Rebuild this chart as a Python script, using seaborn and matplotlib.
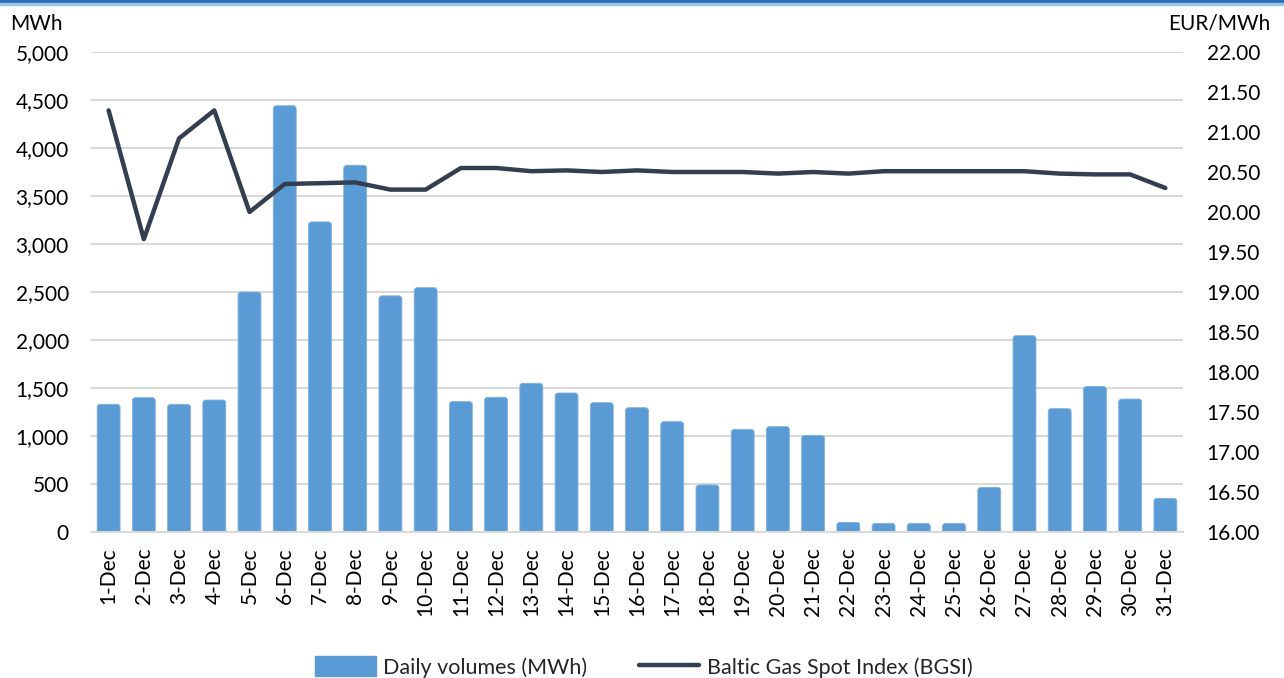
import numpy as np
import pandas as pd
import matplotlib
matplotlib.use("Agg")
import matplotlib.pyplot as plt
from matplotlib.patches import Rectangle, Patch, FancyBboxPatch
from matplotlib.lines import Line2D
from matplotlib.ticker import FuncFormatter, MultipleLocator
import seaborn as sns

days = [f"{d}-Dec" for d in range(1, 32)]
volumes = [1330, 1399, 1330, 1375, 2500, 4440, 3230, 3820, 2460, 2545,
           1358, 1403, 1549, 1448, 1347, 1295, 1149, 490, 1069, 1097,
           1007, 101, 90, 90, 90, 465, 2045, 1285, 1515, 1385, 351]
prices = [21.27, 19.66, 20.92, 21.27, 20.00, 20.35, 20.36, 20.37, 20.28, 20.28,
          20.55, 20.55, 20.51, 20.52, 20.50, 20.52, 20.50, 20.50, 20.50, 20.48,
          20.50, 20.48, 20.51, 20.51, 20.51, 20.51, 20.51, 20.48, 20.47, 20.47,
          20.30]
left_label = "MWh"
right_label = "EUR/MWh"
bar_name = "Daily volumes (MWh)"
line_name = "Baltic Gas Spot Index (BGSI)"

sns.set_theme(style="white")
plt.rcParams["font.family"] = ["Lato", "DejaVu Sans"]

BAR_C = "#5B9BD5"
LINE_C = "#333F50"
GRID_C = "#D9D9D9"
TXT = "#000000"

W, H = 1284, 678
AX_L, AX_R, AX_T, AX_B = 91, 1183, 52, 532
fig = plt.figure(figsize=(W / 100, H / 100), dpi=100)
ax = fig.add_axes([AX_L / W, 1 - AX_B / H, (AX_R - AX_L) / W, (AX_B - AX_T) / H])

df = pd.DataFrame({"day": days, "vol": volumes})
sns.barplot(data=df, x="day", y="vol", ax=ax, color=BAR_C, width=0.65,
            saturation=1, edgecolor=BAR_C, linewidth=0)
ax.set_xlim(-0.5, len(days) - 0.5)
ax.set_ylim(0, 5000)

# rounded top corners, like the reference bars
px_x = (AX_R - AX_L) / len(days)          # pixels per category
px_y = (AX_B - AX_T) / 5000.0             # pixels per MWh
r_px = 3.0
aspect = (1 / px_y) / (1 / px_x)
for p in list(ax.patches):
    x0, w, h = p.get_x(), p.get_width(), p.get_height()
    ext = r_px / px_y
    fb = FancyBboxPatch((x0, -ext), w, h + ext,
                        boxstyle=f"round,pad=0,rounding_size={r_px / px_x}",
                        mutation_aspect=aspect, facecolor=BAR_C,
                        edgecolor="#7FB1DE", linewidth=0.6, zorder=p.get_zorder())
    p.remove()
    ax.add_patch(fb)

ax.yaxis.set_major_locator(MultipleLocator(500))
ax.yaxis.set_major_formatter(FuncFormatter(lambda v, p: f"{v:,.0f}"))
ax.set_axisbelow(True)
ax.grid(axis="y", color=GRID_C, lw=1.5)
ax.grid(axis="x", visible=False)
for s in ["top", "right", "left"]:
    ax.spines[s].set_visible(False)
ax.spines["bottom"].set_color(GRID_C)
ax.spines["bottom"].set_linewidth(1.5)
ax.spines["bottom"].set_zorder(5)
ax.set_xlabel("")
ax.set_ylabel("")
ax.tick_params(axis="y", length=0, pad=16, labelsize=15, labelcolor=TXT)
ax.tick_params(axis="x", which="major", length=0, pad=11, labelsize=15,
               labelrotation=90, labelcolor=TXT)
ax.set_xticks(np.arange(-0.5, len(days), 1.0), minor=True)
ax.tick_params(axis="x", which="minor", length=5, width=1.5, color=GRID_C,
               direction="out")

ax2 = ax.twinx()
sns.lineplot(x=np.arange(len(days)), y=prices, ax=ax2, color=LINE_C,
             lw=3.2, solid_joinstyle="round", solid_capstyle="round")
ax2.set_ylim(16, 22)
ax2.yaxis.set_major_locator(MultipleLocator(0.5))
ax2.yaxis.set_major_formatter(FuncFormatter(lambda v, p: f"{v:.2f}"))
ax2.tick_params(axis="y", length=0, pad=17, labelsize=15, labelcolor=TXT)
for s in ax2.spines.values():
    s.set_visible(False)
ax2.set_ylabel("")
ax2.grid(False)

fig.text(10 / W, 1 - 24 / H, left_label, fontsize=15, ha="left", va="center", color=TXT)
fig.text(1270 / W, 1 - 24 / H, right_label, fontsize=15, ha="right", va="center", color=TXT)

handles = [Patch(facecolor=BAR_C, edgecolor=BAR_C),
           Line2D([0], [0], color=LINE_C, lw=3.2, solid_capstyle="round")]
fig.legend(handles, [bar_name, line_name], loc="center",
           bbox_to_anchor=(644 / W, 1 - 667 / H), ncol=2, frameon=False,
           fontsize=15.5, handlelength=2.8, handleheight=1.0, columnspacing=2.4,
           handletextpad=0.35, borderaxespad=0)

fig.patches.append(Rectangle((0, 1 - 3 / H), 1, 3 / H, transform=fig.transFigure,
                             color="#2E6DB4", zorder=10))
fig.patches.append(Rectangle((0, 1 - 5 / H), 1, 2 / H, transform=fig.transFigure,
                             color="#9DC3E6", zorder=10))

fig.savefig("out.png", dpi=100)
